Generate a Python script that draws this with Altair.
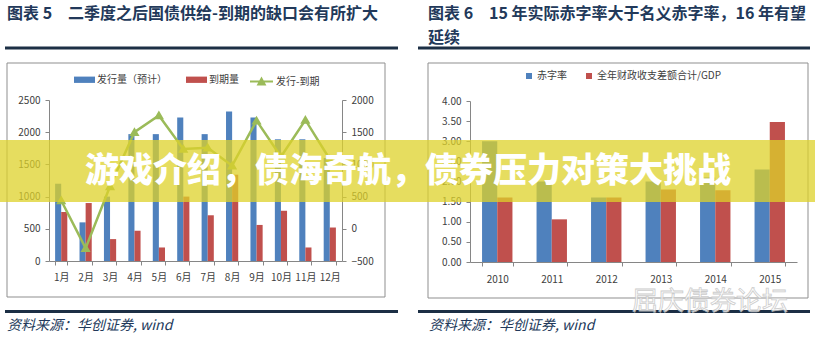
import altair as alt
import pandas as pd

FONT = "Noto Sans CJK SC"

# ---------------- data ----------------
months = ['1月', '2月', '3月', '4月', '5月', '6月', '7月', '8月', '9月', '10月', '11月', '12月']
issuance = [1200, 600, 1000, 1970, 1970, 2230, 1970, 2320, 2230, 1890, 1890, 1600]
maturity = [760, 900, 340, 470, 210, 1000, 710, 1340, 560, 780, 210, 520]
net_supply = [440, -300, 660, 1500, 1760, 1240, 1260, 980, 1680, 1120, 1690, 1080]
left_series = ['发行量（预计）', '到期量']
line_name = '发行-到期'
left_ticks = [0, 500, 1000, 1500, 2000, 2500]
right_ticks = [-500, 0, 500, 1000, 1500, 2000]

years = ['2010', '2011', '2012', '2013', '2014', '2015']
deficit_rate = [3.00, 2.00, 1.60, 2.00, 2.10, 2.30]
gap_to_gdp = [1.60, 1.06, 1.60, 1.80, 1.78, 3.48]
right_series = ['赤字率', '全年财政收支差额合计/GDP']
rate_ticks = [0, 0.5, 1.0, 1.5, 2.0, 2.5, 3.0, 3.5, 4.0]

title_left = '图表 5　二季度之后国债供给-到期的缺口会有所扩大'
title_right_1 = '图表 6　15 年实际赤字率大于名义赤字率，16 年有望'
title_right_2 = '延续'
source_text = '资料来源：华创证券, wind'
banner_text = '游戏介绍，债海奇航，债券压力对策大挑战'
watermark_text = '屈庆债券论坛'

# ---------------- styles ----------------
W1, W2, H = 410, 405, 342
BLUE, RED, GREEN = '#4f81bd', '#c0504d', '#9bbb59'
TITLE_C = '#22395a'
RULE_C = '#1c2f45'
BOX_C = '#8f8f8f'

axis_common = dict(domainColor='#868686', tickColor='#868686', labelColor='#404040',
                   labelFont=FONT, labelFontSize=10, grid=False, title=None,
                   tickSize=4, domainWidth=1, tickWidth=1)

one = pd.DataFrame({'a': [0]})


def text_layer(txt, x, y, size, color, weight='normal', style='normal', align='left', **kw):
    return alt.Chart(pd.DataFrame({'t': [txt]})).mark_text(
        align=align, baseline='middle', font=FONT, fontSize=size, fontWeight=weight,
        fontStyle=style, color=color, **kw
    ).encode(text='t:N', x=alt.value(x), y=alt.value(y))


def hrule(x1, x2, y, width=3, color=RULE_C):
    return alt.Chart(one).mark_rule(color=color, strokeWidth=width).encode(
        x=alt.value(x1), x2=alt.value(x2), y=alt.value(y))


def box(x1, x2, y1, y2):
    return alt.Chart(one).mark_rect(fillOpacity=0, stroke=BOX_C, strokeWidth=1).encode(
        x=alt.value(x1), x2=alt.value(x2), y=alt.value(y1), y2=alt.value(y2))


def grouped_bars(df, series, bar_w, x_enc, y_enc, color_enc):
    """Two side-by-side bar layers, each centred half a bar away from the band centre."""
    base = alt.Chart(df).encode(x=x_enc, y=y_enc, color=color_enc)
    layers = []
    for i, s in enumerate(series):
        off = (i - 0.5) * bar_w
        layers.append(base.transform_filter(alt.datum.series == s)
                      .mark_bar(size=bar_w, xOffset=off))
    return alt.layer(*layers)


# ---------------- left panel ----------------
left_df = pd.DataFrame({
    'month': months * 2,
    'series': [left_series[0]] * len(months) + [left_series[1]] * len(months),
    'value': issuance + maturity,
})
line_df = pd.DataFrame({'month': months, 'value': net_supply, 'series': [line_name] * len(months)})

x_left = alt.X('month:N', sort=months,
               scale=alt.Scale(domain=months, range=[49, 342], paddingInner=0.5, paddingOuter=0.25),
               axis=alt.Axis(orient='bottom', offset=-(H - 261), tickBand='extent', labelAngle=0,
                             labelPadding=7, **axis_common))
y_left = alt.Y('value:Q', scale=alt.Scale(domain=[0, 2500], range=[261, 100], nice=False),
               axis=alt.Axis(orient='left', offset=-49, values=left_ticks, format='.0f',
                             labelPadding=5, **axis_common))
c_left = alt.Color('series:N', sort=left_series,
                   scale=alt.Scale(domain=left_series, range=[BLUE, RED]),
                   legend=alt.Legend(orient='none', legendX=74, legendY=69, direction='horizontal',
                                     title=None, symbolType='M-1,-0.3L1,-0.3L1,0.3L-1,0.3Z',
                                     symbolSize=441, symbolStrokeWidth=0, labelFont=FONT,
                                     labelFontSize=10, labelColor='#404040', columnPadding=19,
                                     labelOffset=2, padding=0))

bars_left = grouped_bars(left_df, left_series, 6.1, x_left, y_left, c_left)

line_left = alt.Chart(line_df).mark_line(
    strokeWidth=2.5,
    point=alt.OverlayMarkDef(shape='triangle-up', filled=True, size=45, fill=GREEN, stroke=GREEN),
).encode(
    x=alt.X('month:N', sort=months),
    y=alt.Y('value:Q', scale=alt.Scale(domain=[-500, 2000], range=[261, 100], nice=False, zero=False),
            axis=alt.Axis(orient='right', offset=-(W1 - 342), values=right_ticks, format='.0f',
                          labelPadding=5, **axis_common)),
    stroke=alt.Stroke('series:N', scale=alt.Scale(domain=[line_name], range=[GREEN]),
                      legend=alt.Legend(orient='none', legendX=249, legendY=69, title=None,
                                        symbolType='M-1,0L1,0M-0.28,0.25L0,-0.25L0.28,0.25Z',
                                        symbolSize=529, symbolStrokeWidth=2, symbolFillColor=GREEN,
                                        labelFont=FONT, labelFontSize=10, labelColor='#404040',
                                        labelOffset=2, padding=0)),
)

left = alt.layer(
    box(7, 385, 63, 297),
    text_layer(title_left, 7, 14, 16, TITLE_C, weight='bold'),
    hrule(5, 398, 48),
    hrule(5, 398, 311.5),
    text_layer(source_text, 7, 326, 14, TITLE_C, style='italic'),
    bars_left,
    line_left,
).resolve_scale(y='independent').properties(width=W1, height=H)

# ---------------- right panel (local coords = page x - 410) ----------------
right_df = pd.DataFrame({
    'year': years * 2,
    'series': [right_series[0]] * len(years) + [right_series[1]] * len(years),
    'value': deficit_rate + gap_to_gdp,
})

x_right = alt.X('year:N', sort=years,
                scale=alt.Scale(domain=years, range=[60, 387], paddingInner=0.44, paddingOuter=0.22),
                axis=alt.Axis(orient='bottom', offset=-(H - 262), tickBand='extent', labelAngle=0,
                              labelPadding=8, **axis_common))
y_right = alt.Y('value:Q', scale=alt.Scale(domain=[0, 4], range=[262, 101], nice=False),
                axis=alt.Axis(orient='left', offset=-60, values=rate_ticks, format='.2f',
                              labelPadding=5, **axis_common))
c_right = alt.Color('series:N', sort=right_series,
                    scale=alt.Scale(domain=right_series, range=[BLUE, RED]),
                    legend=alt.Legend(orient='none', legendX=114, legendY=71, direction='horizontal',
                                      title=None, symbolType='square', symbolSize=36,
                                      symbolStrokeWidth=0, labelFont=FONT, labelFontSize=10,
                                      labelColor='#404040', columnPadding=17, labelOffset=3,
                                      padding=0))

bars_right = grouped_bars(right_df, right_series, 15.2, x_right, y_right, c_right)

banner = alt.Chart(one).mark_rect(color='#ddd22a', opacity=0.75).encode(
    x=alt.value(-410), x2=alt.value(W2), y=alt.value(140), y2=alt.value(202))

right = alt.layer(
    box(18, 398, 63, 298),
    text_layer(title_right_1, 18, 14, 16, TITLE_C, weight='bold'),
    text_layer(title_right_2, 18, 38, 16, TITLE_C, weight='bold'),
    hrule(8, 400, 48),
    hrule(8, 400, 311.5),
    text_layer(source_text, 19, 326, 14, TITLE_C, style='italic'),
    bars_right,
    text_layer(watermark_text, 222, 302, 26, '#ffffff', stroke='#c4c4c4', strokeWidth=0.8,
               opacity=0.85),
    banner,
    text_layer(banner_text, -325, 172, 34, '#ffffff', weight=900),
).properties(width=W2, height=H)

chart = alt.hconcat(left, right, spacing=0, bounds='flush').resolve_scale(
    color='independent', stroke='independent'
).resolve_legend(color='independent', stroke='independent').properties(
    padding=0, background='white'
).configure_view(stroke=None)

chart.save("out.html", embed_options={"renderer": "svg", "actions": False})
